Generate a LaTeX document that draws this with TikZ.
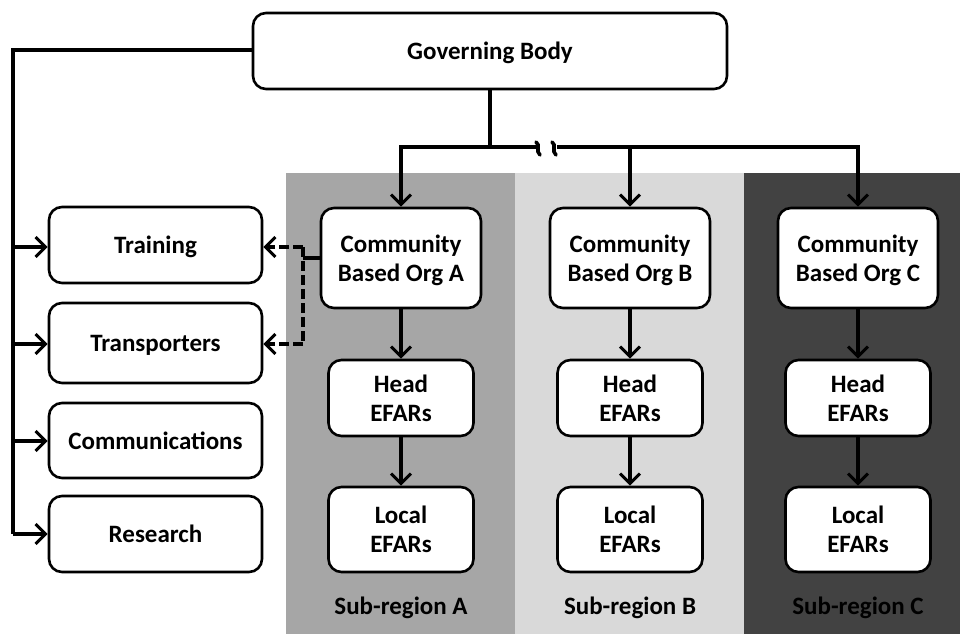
\documentclass[tikz,border=0pt]{standalone}
\usepackage{fontspec}
\setmainfont{Carlito}
\usetikzlibrary{arrows.meta}
\definecolor{regA}{gray}{0.65}
\definecolor{regB}{gray}{0.85}
\definecolor{regC}{gray}{0.26}
\newcommand\bx[1]{\raisebox{-3pt}[\height][\depth]{\begin{tabular}{@{}c@{}}#1\end{tabular}}}
\begin{document}
\begin{tikzpicture}[x=1pt,y=-1pt,
  txt/.style={font=\fontsize{25}{29}\selectfont\bfseries},
  box/.style={draw=black,line width=2.6pt,fill=white,rounded corners=13pt,txt,inner sep=0pt},
  conn/.style={line width=3.6pt,-{Straight Barb[length=10pt,width=20pt,line width=3pt]}},
  line/.style={line width=3.6pt},
  dashconn/.style={line width=3.6pt,dash pattern=on 10pt off 4pt,-{Straight Barb[length=10pt,width=20pt,line width=3pt]}}]
\useasboundingbox (0,0) rectangle (960,634);
\fill[white] (0,0) rectangle (960,634);
% sub-region backgrounds
\fill[regA] (286,173) rectangle (515,634);
\fill[regB] (515,173) rectangle (744,634);
\fill[regC] (744,173) rectangle (960,634);
\node[txt] (sa) at (401,608) {Sub-region A};
\node[txt] (sb) at (630,608) {Sub-region B};
\node[txt] (sc) at (858,608) {Sub-region C};
% boxes
\node[box,minimum width=474pt,minimum height=76pt] (gov) at (490,51) {\bx{Governing Body}};
\node[box,minimum width=213pt,minimum height=76pt] (tr) at (155.5,245) {\bx{Training}};
\node[box,minimum width=213pt,minimum height=80pt] (tp) at (155.5,343) {\bx{Transporters}};
\node[box,minimum width=213pt,minimum height=75pt] (cm) at (155.5,440.5) {\bx{Communications}};
\node[box,minimum width=213pt,minimum height=76pt] (rs) at (155.5,534) {\bx{Research}};
\node[box,minimum width=160pt,minimum height=100pt] (ca) at (401,258) {\bx{Community\\Based Org A}};
\node[box,minimum width=160pt,minimum height=100pt] (cb) at (630,258) {\bx{Community\\Based Org B}};
\node[box,minimum width=160pt,minimum height=100pt] (cc) at (858,258) {\bx{Community\\Based Org C}};
\node[box,minimum width=145pt,minimum height=76pt] (ha) at (401,398) {\bx{Head\\EFARs}};
\node[box,minimum width=145pt,minimum height=76pt] (hb) at (630,398) {\bx{Head\\EFARs}};
\node[box,minimum width=145pt,minimum height=76pt] (hc) at (858,398) {\bx{Head\\EFARs}};
\node[box,minimum width=145pt,minimum height=85pt] (la) at (401,529.5) {\bx{Local\\EFARs}};
\node[box,minimum width=145pt,minimum height=85pt] (lb) at (630,529.5) {\bx{Local\\EFARs}};
\node[box,minimum width=145pt,minimum height=85pt] (lc) at (858,529.5) {\bx{Local\\EFARs}};
% left trunk
\coordinate (tl) at (13,50);
\coordinate (bl) at (13,534);
\draw[line] (gov.west |- tl) -- (tl) -- (bl);
\draw[conn] (13,247) -- (tr.west |- 0,247);
\draw[conn] (13,344) -- (tp.west |- 0,344);
\draw[conn] (13,441) -- (cm.west |- 0,441);
\draw[conn] (bl) -- (rs.west);
% top distribution
\coordinate (gb) at (490,147);
\draw[line] (gov.south) -- (gb);
\draw[line] (399.2,147) -- (538,147);
\draw[line,line cap=round] (536,142) .. controls (541,145) and (535,151) .. (540,155);
\draw[line] (557,147) -- (859.8,147);
\draw[line,line cap=round] (552,142) .. controls (557,145) and (551,151) .. (556,155);
\draw[conn] (401,147) -- (ca.north);
\draw[conn] (630,147) -- (cb.north);
\draw[conn] (858,147) -- (cc.north);
% vertical chains
\draw[conn] (ca) -- (ha);
\draw[conn] (cb) -- (hb);
\draw[conn] (cc) -- (hc);
\draw[conn] (ha) -- (la);
\draw[conn] (hb) -- (lb);
\draw[conn] (hc) -- (lc);
% dashed links
\coordinate (dj) at (303,258);
\draw[line] (ca.west) -- (dj);
\draw[dashconn] (303,247) -- (tr.east |- 0,247);
\draw[dashconn] (303,344) -- (tp.east |- 0,344);
\draw[line,dash pattern=on 10pt off 4pt] (303,247) -- (303,344);
\end{tikzpicture}
\end{document}
